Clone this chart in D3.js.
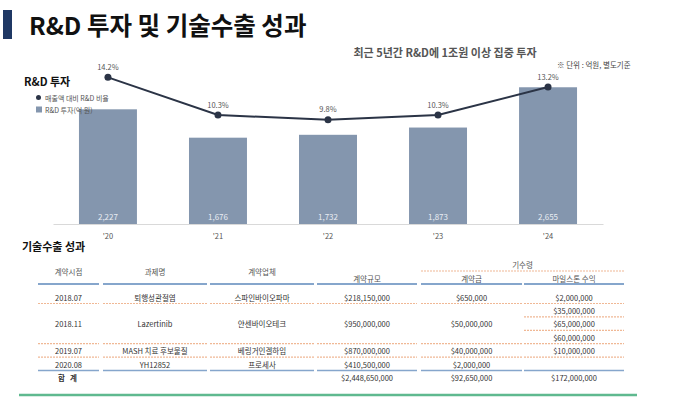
<!DOCTYPE html>
<html>
<head>
<meta charset="utf-8">
<script src="https://cdn.jsdelivr.net/npm/d3@7"></script>
<style>
  body { margin: 0; background: #fff; font-family: "Noto Sans CJK KR", "Noto Sans", sans-serif; }
</style>
</head>
<body>
<div id="chart"></div>
<script>
// chart data
var years = ["'20", "'21", "'22", "'23", "'24"];
var rdInvest = [2227, 1676, 1732, 1873, 2655];
var rdRatio = [14.2, 10.3, 9.8, 10.3, 13.2];

// table data
var headers = ["계약시점", "과제명", "계약업체", "계약규모", "계약금", "마일스톤 수익"];
var contractDates = ["2018.07", "2018.11", "2019.07", "2020.08"];
var projects = ["퇴행성관절염", "Lazertinib", "MASH 치료 후보물질", "YH12852"];
var partners = ["스파인바이오파마", "얀센바이오테크", "베링거인겔하임", "프로세사"];
var contractSizes = ["$218,150,000", "$950,000,000", "$870,000,000", "$410,500,000"];
var upfronts = ["$650,000", "$50,000,000", "$40,000,000", "$2,000,000"];
var milestones = [["$2,000,000"], ["$35,000,000", "$65,000,000", "$60,000,000"], ["$10,000,000"], []];
var totals = ["$2,448,650,000", "$92,650,000", "$172,000,000"];

var W = 680, H = 397;
var svg = d3.select("#chart").append("svg").attr("width", W).attr("height", H);
var gray = "#555", navy = "#2b3446", barColor = "#8496ae";

// title
svg.append("rect").attr("x", 3).attr("y", 10).attr("width", 9).attr("height", 29).attr("fill", "#1f3864");
svg.append("text").attr("x", 29).attr("y", 35).attr("font-size", 24.5).attr("font-weight", "bold")
  .attr("fill", "#111").text("R&D 투자 및 기술수출 성과");

svg.append("text").attr("x", 445).attr("y", 52).attr("text-anchor", "middle").attr("dominant-baseline", "central")
  .attr("font-size", 11).attr("font-weight", "bold").attr("fill", gray).text("최근 5년간 R&D에 1조원 이상 집중 투자");
svg.append("text").attr("x", 557).attr("y", 64).attr("dominant-baseline", "central")
  .attr("font-size", 7.5).attr("fill", "#444").text("※ 단위 : 억원, 별도기준");

svg.append("text").attr("x", 24).attr("y", 81).attr("dominant-baseline", "central")
  .attr("font-size", 11).attr("font-weight", "bold").attr("fill", "#111").text("R&D 투자");

// scales
var x = d3.scaleBand().domain(years).range([53, 603]).paddingInner(0.473).paddingOuter(0.236);
var y = d3.scaleLinear().domain([0, 3000]).range([224, 69.5]);
var yr = d3.scaleLinear().domain([0, 15]).range([214.6, 69.6]);

// bars
svg.append("g").selectAll("rect").data(rdInvest).enter().append("rect")
  .attr("x", function (d, i) { return x(years[i]); })
  .attr("y", function (d) { return y(d); })
  .attr("width", x.bandwidth())
  .attr("height", function (d) { return y(0) - y(d); })
  .attr("fill", barColor);
svg.append("g").selectAll("text").data(rdInvest).enter().append("text")
  .attr("x", function (d, i) { return x(years[i]) + x.bandwidth() / 2; })
  .attr("y", y(0) - 8).attr("text-anchor", "middle").attr("dominant-baseline", "central")
  .attr("font-size", 8).attr("fill", "#e9edf3")
  .text(function (d) { return d3.format(",")(d); });

// x axis
var xAxis = svg.append("g").attr("transform", "translate(0," + y(0) + ")")
  .call(d3.axisBottom(x).tickSize(0).tickPadding(10));
xAxis.select(".domain").attr("stroke", "#d9d9d9");
xAxis.selectAll("text").attr("font-size", 7.5).attr("fill", gray)
  .attr("font-family", "'Noto Sans CJK KR', 'Noto Sans', sans-serif");

// ratio line
var line = d3.line().x(function (d, i) { return x(years[i]) + x.bandwidth() / 2; }).y(function (d) { return yr(d); });
svg.append("path").datum(rdRatio).attr("d", line).attr("fill", "none").attr("stroke", navy).attr("stroke-width", 2);
svg.append("g").selectAll("circle").data(rdRatio).enter().append("circle")
  .attr("cx", function (d, i) { return x(years[i]) + x.bandwidth() / 2; })
  .attr("cy", function (d) { return yr(d); }).attr("r", 3.5).attr("fill", navy);
svg.append("g").selectAll("text").data(rdRatio).enter().append("text")
  .attr("x", function (d, i) { return x(years[i]) + x.bandwidth() / 2; })
  .attr("y", function (d) { return yr(d) - 11; })
  .attr("text-anchor", "middle").attr("dominant-baseline", "central")
  .attr("font-size", 7.5).attr("fill", gray)
  .text(function (d) { return d.toFixed(1) + "%"; });

// legend
svg.append("circle").attr("cx", 38.5).attr("cy", 97.5).attr("r", 2.5).attr("fill", navy);
svg.append("text").attr("x", 45).attr("y", 97.5).attr("dominant-baseline", "central")
  .attr("font-size", 7).attr("fill", gray).text("매출액 대비 R&D 비율");
svg.append("rect").attr("x", 36).attr("y", 106.5).attr("width", 6).attr("height", 6).attr("fill", barColor);
svg.append("text").attr("x", 45).attr("y", 109.5).attr("dominant-baseline", "central")
  .attr("font-size", 7).attr("fill", gray).text("R&D 투자(억 원)");

// table
svg.append("text").attr("x", 22).attr("y", 246).attr("dominant-baseline", "central")
  .attr("font-size", 11).attr("font-weight", "bold").attr("fill", "#111").text("기술수출 성과");

var colEdges = [[38, 99], [103, 207], [210, 314], [317, 417], [421, 522], [524, 624]];
function cx(c) { return (colEdges[c][0] + colEdges[c][1]) / 2; }
var ty = d3.scaleLinear().domain([0, 1]).range([297, 310.4]);
var orange = "#f0b895", blue = "#86a6cc", fs = 7.5, tc = "#333";

function hline(c, yy, color, w, dash) {
  svg.append("line").attr("x1", colEdges[c][0]).attr("x2", colEdges[c][1])
    .attr("y1", yy).attr("y2", yy).attr("stroke", color).attr("stroke-width", w)
    .attr("stroke-dasharray", dash || null);
}
function cell(c, yy, t) {
  return svg.append("text").attr("x", cx(c)).attr("y", yy).attr("text-anchor", "middle")
    .attr("dominant-baseline", "central").attr("font-size", fs).attr("fill", tc).text(t);
}

// header
headers.forEach(function (h, c) {
  cell(c, c < 3 ? 271 : 278, h).attr("fill", gray);
  hline(c, 284, blue, 2);
});
svg.append("text").attr("x", (colEdges[4][0] + colEdges[5][1]) / 2).attr("y", 264)
  .attr("text-anchor", "middle").attr("dominant-baseline", "central")
  .attr("font-size", fs).attr("fill", gray).text("기수령");
svg.append("line").attr("x1", colEdges[4][0]).attr("x2", colEdges[5][1]).attr("y1", 271).attr("y2", 271)
  .attr("stroke", orange).attr("stroke-width", 1.2).attr("stroke-dasharray", "2,1");

// rows
var sub = 0;
contractDates.forEach(function (d, r) {
  var n = Math.max(1, milestones[r].length);
  var mid = (ty(sub) + ty(sub + n - 1)) / 2;
  var last = r === contractDates.length - 1;
  [d, projects[r], partners[r], contractSizes[r], upfronts[r]].forEach(function (t, c) {
    cell(c, mid, t);
    if (last) hline(c, ty(sub + n - 1) + 6.5, blue, 1.3);
    else hline(c, ty(sub + n - 1) + 6.5, orange, 1.2, "2,1");
  });
  for (var k = 0; k < n; k++) {
    if (milestones[r][k]) cell(5, ty(sub + k), milestones[r][k]);
    if (last) hline(5, ty(sub + k) + 6.5, blue, 1.3);
    else hline(5, ty(sub + k) + 6.5, orange, 1.2, "2,1");
  }
  sub += n;
});

// totals
svg.append("text").attr("x", 58).attr("y", ty(sub)).attr("dominant-baseline", "central")
  .attr("font-size", fs).attr("font-weight", "bold").attr("fill", tc).attr("xml:space", "preserve")
  .text("합   계");
totals.forEach(function (t, i) { cell(3 + i, ty(sub), t); });

// footer line
svg.append("line").attr("x1", 19).attr("x2", 637).attr("y1", 395).attr("y2", 395)
  .attr("stroke", "#5fb98f").attr("stroke-width", 2.5);
</script>
</body>
</html>
